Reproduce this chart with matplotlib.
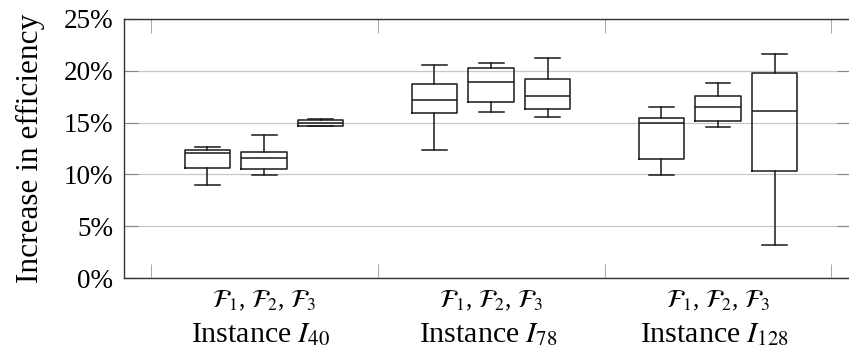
import matplotlib
matplotlib.use("Agg")
import matplotlib.pyplot as plt

plt.rcParams["font.family"] = ["Liberation Serif", "DejaVu Serif"]
plt.rcParams["mathtext.fontset"] = "stix"

instances = ["40", "78", "128"]
variants = [r"$\mathcal{F}_1$", r"$\mathcal{F}_2$", r"$\mathcal{F}_3$"]

# per box: lower whisker, q1, median, q3, upper whisker (percent)
whislo = [8.99, 9.99, 14.63, 12.37, 15.98, 15.56, 9.92, 14.53, 3.16]
q1 = [10.66, 10.50, 14.69, 15.91, 16.98, 16.27, 11.53, 15.11, 10.28]
med = [12.02, 11.63, 14.98, 17.14, 18.94, 17.53, 14.92, 16.49, 16.08]
q3 = [12.31, 12.15, 15.27, 18.75, 20.30, 19.23, 15.46, 17.53, 19.78]
whishi = [12.63, 13.76, 15.33, 20.55, 20.72, 21.26, 16.53, 18.81, 21.59]

yticks = [0, 5, 10, 15, 20, 25]

stats = []
positions = []
for i in range(len(med)):
    g, k = divmod(i, 3)
    positions.append(g + 1 + (k - 1) * 0.25)
    stats.append(dict(whislo=whislo[i], q1=q1[i], med=med[i], q3=q3[i],
                      whishi=whishi[i], fliers=[]))

fig = plt.figure(figsize=(8.49, 3.56), dpi=100)
ax = fig.add_axes([124 / 849, 1 - 278 / 356, 727 / 849, 259 / 356])

line = dict(color="#1a1a1a", linewidth=1.1)
ax.bxp(stats, positions=positions, widths=0.2, showfliers=False,
       boxprops=line, medianprops=line, whiskerprops=line,
       capprops=line, capwidths=0.11)

ax.set_xlim(0.383, 3.586)
ax.set_ylim(0, 25)
ax.set_yticks(yticks)
ax.set_yticklabels([f"{v}%" for v in yticks], fontsize=19.5)
ax.yaxis.grid(True, color="#c8c8c8", linewidth=0.9)
ax.set_axisbelow(True)

# first line of the group labels as tick labels, second line as text
ax.set_xticks([1, 2, 3])
ax.set_xticklabels([", ".join(variants)] * 3, fontsize=18)
ax.tick_params(axis="x", length=0, pad=8)
for g, s in enumerate(instances):
    ax.annotate(r"Instance $I_{\mathrm{%s}}$" % s, xy=(g + 1, 0),
                xycoords=("data", "axes fraction"), xytext=(-3, -57),
                textcoords="offset pixels", ha="center", va="center",
                fontsize=21.5)
ax.set_xticks([0.5, 1.5, 2.5, 3.5], minor=True)
ax.tick_params(axis="x", which="minor", direction="in", length=10,
               color="#999999", top=True, bottom=True)
ax.tick_params(axis="y", direction="in", length=10, color="#888888",
               left=True, right=True, pad=8)

ax.set_ylabel("Increase in efficiency", fontsize=22.5)
ax.yaxis.set_label_coords(-0.109, 0.5)
for s in ["left", "bottom", "top"]:
    ax.spines[s].set_color("#333333")
    ax.spines[s].set_linewidth(1.0)
ax.spines["right"].set_visible(False)

fig.savefig("out.png", dpi=100, facecolor="white")
